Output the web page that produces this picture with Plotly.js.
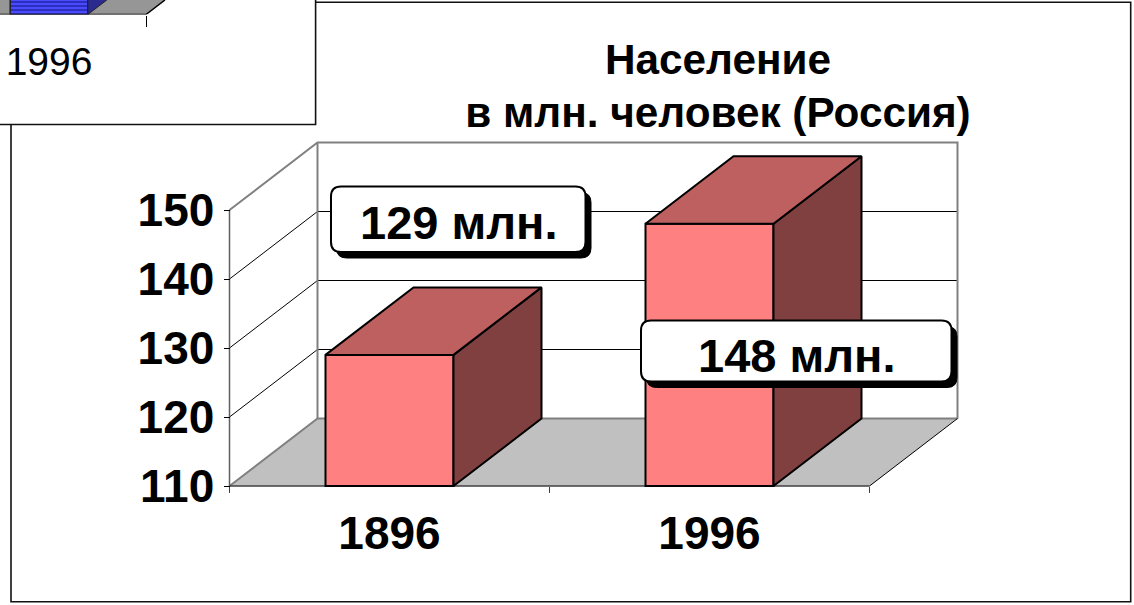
<!DOCTYPE html>
<html><head><meta charset="utf-8"><script src="https://cdn.plot.ly/plotly-3.0.1.min.js"></script>
<style>html,body{margin:0;padding:0;background:#fff;overflow:hidden}</style></head>
<body><div id="chart" style="width:1134px;height:605px"></div>
<script>
const years = ['1896', '1996'];
const population = [129, 148];
const valueTicks = [110, 120, 130, 140, 150];
const barLabels = ['129 млн.', '148 млн.'];
const titleLines = ['Население', 'в млн. человек (Россия)'];
const insetYears = ['1996'];
const insetValues = [148];

// Page geometry (pixels)
const W = 1134, H = 605, FONT = '"Liberation Sans", Arial, sans-serif';
const PX0 = 229.5, PXU = 320, PY110 = 486, PYU = 6.9;
const BOX = {l: 224, r: 962, t: 138, b: 492};
const xRange = [(BOX.l - PX0) / PXU, (BOX.r - PX0) / PXU];
const yRange = [110 + (PY110 - BOX.b) / PYU, 110 + (PY110 - BOX.t) / PYU];
const DX = 88 / PXU, DV = 67.5 / PYU;
const dataX = p => (p - PX0) / PXU, dataY = p => 110 + (PY110 - p) / PYU;
const BARW = 0.4;
const centers = years.map((_, i) => i + 0.5);

const pt = (x, v, d) => (x + d * DX) + ',' + (v + d * DV);
const path = pts => 'M' + pts.join('L') + 'Z';
const openPath = pts => 'M' + pts.join('L');
const lineShape = (pts, color, width) => ({type: 'path', xref: 'x', yref: 'y', layer: 'below', path: openPath(pts), line: {color, width}});

const shapes = [];
// outer frame and inset box
const paperX = p => p / W, paperY = p => 1 - p / H;
shapes.push({type: 'rect', xref: 'paper', yref: 'paper', layer: 'below', x0: paperX(11), x1: paperX(1130.7), y0: paperY(601.7), y1: paperY(2.3), fillcolor: '#fff', line: {color: '#111', width: 1.6}});
shapes.push({type: 'rect', xref: 'paper', yref: 'paper', layer: 'below', x0: paperX(-5), x1: paperX(315.6), y0: paperY(124.5), y1: paperY(-5), fillcolor: '#fff', line: {color: '#111', width: 1.6}});
// floor
shapes.push({type: 'path', xref: 'x', yref: 'y', layer: 'below', path: path([pt(0, 110, 0), pt(2, 110, 0), pt(2, 110, 1), pt(0, 110, 1)]), fillcolor: '#c0c0c0', line: {width: 0}});
// gridlines
valueTicks.slice(1, -1).forEach(v => {
  shapes.push(lineShape([pt(0, v, 0), pt(0, v, 1), pt(2, v, 1)], '#000', 1));
});
// walls
shapes.push(lineShape([pt(0, 110, 0), pt(0, 110, 1), pt(2, 110, 1)], '#808080', 2));
shapes.push(lineShape([pt(0, 150, 0), pt(0, 150, 1), pt(2, 150, 1), pt(2, 110, 1)], '#808080', 2));
shapes.push(lineShape([pt(0, 110, 1), pt(0, 150, 1)], '#808080', 2));
shapes.push(lineShape([pt(0, 110, 0), pt(0, 150, 0)], '#606060', 1.5));
shapes.push(lineShape([pt(0, 110, 0), pt(2, 110, 0)], '#404040', 1.5));
shapes.push(lineShape([pt(2, 110, 0), pt(2, 110, 1)], '#000', 1));

// Rounded value callouts
const rounded = (l, t, r, b, c) => {
  const X = dataX, Y = dataY;
  return `M${X(l + c)},${Y(t)} L${X(r - c)},${Y(t)} Q${X(r)},${Y(t)} ${X(r)},${Y(t + c)} L${X(r)},${Y(b - c)} Q${X(r)},${Y(b)} ${X(r - c)},${Y(b)} L${X(l + c)},${Y(b)} Q${X(l)},${Y(b)} ${X(l)},${Y(b - c)} L${X(l)},${Y(t + c)} Q${X(l)},${Y(t)} ${X(l + c)},${Y(t)} Z`;
};
const callouts = [
  {l: 331, t: 186.5, r: 585.5, b: 252, tx: 458.5, ty: 223},
  {l: 641, t: 320.5, r: 951.5, b: 381.5, tx: 797, ty: 355}
];
callouts.forEach(c => {
  shapes.push({type: 'path', xref: 'x', yref: 'y', layer: 'above', path: rounded(c.l + 5.5, c.t + 6, c.r + 5.5, c.b + 6, 10), fillcolor: '#000', line: {color: '#000', width: 1}});
  shapes.push({type: 'path', xref: 'x', yref: 'y', layer: 'above', path: rounded(c.l, c.t, c.r, c.b, 10), fillcolor: '#fff', line: {color: '#000', width: 2}});
});

// Inset chart axes
const IN = {r: 316, b: 14.5, tickX: 146, unit: 194};
const inX = [48 / IN.unit, (48 + IN.r) / IN.unit];
const inV0 = 110, inY = [inV0, inV0 + 2];
const inDX = 19 / IN.unit, inDV = 2;
const ipt = (x, v, d) => (x + d * inDX) + ',' + (v + d * inDV);
shapes.push({type: 'path', xref: 'x3', yref: 'y3', layer: 'below', path: path([ipt(0, inV0, 0), ipt(1, inV0, 0), ipt(1, inV0, 1), ipt(0, inV0, 1)]), fillcolor: '#969696', line: {width: 0}});
shapes.push({type: 'path', xref: 'x3', yref: 'y3', layer: 'below', path: openPath([ipt(0, inV0, 0), ipt(1, inV0, 0), ipt(1, inV0, 1)]), line: {color: '#000', width: 1.5}});

const traces = [];
traces.push({type: 'bar', x: centers, y: population.map(v => v - 110), base: 110, width: BARW,
  marker: {color: '#ff8080', line: {color: '#000', width: 2}}, hoverinfo: 'skip', xaxis: 'x', yaxis: 'y'});
const polygon = (xs, ys, fill) => ({type: 'scatter', mode: 'lines', x: xs, y: ys, fill: 'toself', fillcolor: fill,
  line: {color: '#000', width: 2}, hoverinfo: 'skip', xaxis: 'x', yaxis: 'y'});
centers.forEach((c, i) => {
  const l = c - BARW / 2, r = c + BARW / 2, v = population[i];
  traces.push(polygon([r, r + DX, r + DX, r, r], [110, 110 + DV, v + DV, v, 110], '#804040'));
  traces.push(polygon([l, r, r + DX, l + DX, l], [v, v, v + DV, v + DV, v], '#bf6060'));
});
// Inset bar
traces.push({type: 'bar', x: [0.5], y: insetValues.map(v => v - inV0), base: inV0, width: BARW,
  marker: {color: '#4a4aff', line: {color: '#222', width: 1.5}, pattern: {shape: '-', fgcolor: '#1a1a90', bgcolor: '#4a4aff', size: 4, solidity: 0.3}},
  hoverinfo: 'skip', xaxis: 'x3', yaxis: 'y3'});
traces.push({type: 'scatter', mode: 'lines', x: [0.7, 0.7 + inDX, 0.7 + inDX, 0.7, 0.7],
  y: [inV0, inV0 + inDV, insetValues[0], insetValues[0], inV0], fill: 'toself', fillcolor: '#2a2a90',
  line: {color: '#222', width: 1}, hoverinfo: 'skip', xaxis: 'x3', yaxis: 'y3'});

const axisFont = {family: FONT, size: 46, color: '#000', weight: 700};
const annotations = barLabels.map((t, i) => ({
  text: '<b>' + t + '</b>', xref: 'paper', yref: 'paper', x: paperX(callouts[i].tx), y: paperY(callouts[i].ty),
  xanchor: 'center', yanchor: 'middle', showarrow: false, font: {family: FONT, size: 47, color: '#000'}
}));

const layout = {
  width: W, height: H, showlegend: false, barmode: 'overlay',
  margin: {l: 0, r: 0, t: 0, b: 0}, paper_bgcolor: '#fff', plot_bgcolor: 'rgba(0,0,0,0)',
  title: {text: '<span style="font-size:42.3px"><b>' + titleLines[0] + '</b></span><br><span style="font-size:42.3px"><b>' + titleLines[1] + '</b></span>',
    font: {family: FONT, size: 41, color: '#000'}, x: 718 / W, xanchor: 'center', xref: 'paper', y: 1 - 73.5 / H, yanchor: 'middle', yref: 'container'},
  xaxis: {domain: [BOX.l / W, BOX.r / W], range: xRange, anchor: 'free', position: 1 - PY110 / H,
    showgrid: false, zeroline: false, showline: false, tickmode: 'array', tickvals: centers, ticktext: years,
    ticks: '', tickfont: axisFont, ticklabelstandoff: 16,
    minor: {tickmode: 'array', tickvals: [0, 1, 2], ticks: 'outside', ticklen: 6, tickcolor: '#404040', tickwidth: 1, showgrid: false}},
  yaxis: {domain: [1 - BOX.b / H, 1 - BOX.t / H], range: yRange, anchor: 'free', position: PX0 / W,
    showgrid: false, zeroline: false, showline: false, tickmode: 'array', tickvals: valueTicks, ticktext: valueTicks.map(String),
    ticks: 'outside', ticklen: 6, tickcolor: '#000', tickwidth: 1, tickfont: axisFont},
  xaxis3: {domain: [0, IN.r / W], range: inX, anchor: 'y3', showgrid: false, zeroline: false, showline: false,
    tickmode: 'array', tickvals: [0.5], ticktext: insetYears, ticks: '', tickfont: {family: FONT, size: 39, color: '#000'}, ticklabelstandoff: 20,
    minor: {tickmode: 'array', tickvals: [1], ticks: 'outside', ticklen: 11, tickcolor: '#000', tickwidth: 1, showgrid: false}},
  yaxis3: {domain: [1 - IN.b / H, 1], range: inY, anchor: 'x3', visible: false},
  shapes, annotations
};
Plotly.newPlot('chart', traces, layout, {displayModeBar: false, staticPlot: true});
</script></body></html>
